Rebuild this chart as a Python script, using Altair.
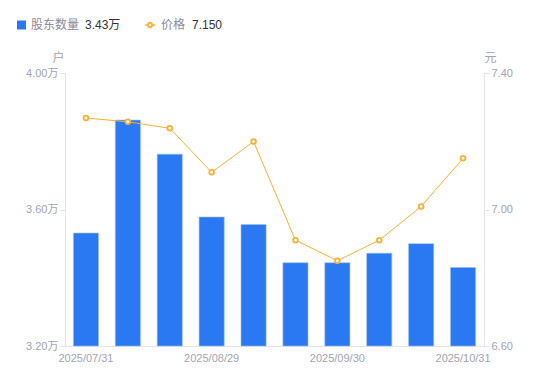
import altair as alt
import pandas as pd

dates = ["2025/07/31", "2025/08/10", "2025/08/20", "2025/08/29", "2025/09/10",
         "2025/09/19", "2025/09/30", "2025/10/10", "2025/10/20", "2025/10/31"]
holders = [3.531, 3.862, 3.762, 3.578, 3.556, 3.444, 3.444, 3.472, 3.500, 3.430]  # 万户
price = [7.268, 7.257, 7.238, 7.109, 7.199, 6.910, 6.850, 6.910, 7.009, 7.150]
shown_dates = [dates[0], dates[3], dates[6], dates[9]]
left_ticks = [3.2, 3.6, 4.0]
right_ticks = [6.6, 7.0, 7.4]

df = pd.DataFrame({"date": dates, "holders": holders, "price": price})

FONT = "Arial, Liberation Sans, Noto Sans CJK SC"
BLUE = "#2a78f2"
ORANGE = "#f9b033"
GRAY = "#a3a3b3"
AXIS = "#e3e3e8"

x_enc = alt.X("date:O", sort=dates, title=None,
              scale=alt.Scale(paddingInner=0.4, paddingOuter=0.2),
              axis=alt.Axis(values=shown_dates, labelAngle=0, ticks=False,
                            domainColor=AXIS, labelColor=GRAY, labelFontSize=11,
                            labelPadding=6, labelFont=FONT, labelOverlap=False))

bars = alt.Chart(df).mark_bar(color=BLUE, stroke="#9cc0f7", strokeWidth=0.6).encode(
    x=x_enc,
    y=alt.Y("holders:Q", scale=alt.Scale(domain=[3.2, 4.0], zero=False, nice=False),
            axis=alt.Axis(values=left_ticks, title="户", titleAngle=0, titleX=-7, titleY=-16,
                          titleAlign="center", titleBaseline="middle", titleColor=GRAY,
                          titleFont=FONT, titleFontSize=12, titleFontWeight="normal",
                          labelExpr="format(datum.value, '.2f') + '万'",
                          labelColor=GRAY, labelFontSize=11, labelFont=FONT,
                          tickColor=AXIS, tickSize=5, labelPadding=2,
                          domainColor=AXIS, grid=False)),
    y2=alt.datum(3.2),
)

line = alt.Chart(df).mark_line(color=ORANGE, strokeWidth=1).encode(
    x=alt.X("date:O", sort=dates),
    y=alt.Y("price:Q", scale=alt.Scale(domain=[6.6, 7.4], zero=False, nice=False),
            axis=alt.Axis(values=right_ticks, orient="right", title="元", titleAngle=0,
                          titleX=6, titleY=-16, titleAlign="center", titleBaseline="middle",
                          titleColor=GRAY, titleFont=FONT, titleFontSize=12,
                          titleFontWeight="normal", format=".2f",
                          labelColor=GRAY, labelFontSize=11, labelFont=FONT,
                          tickColor=AXIS, tickSize=5, labelPadding=2,
                          domainColor=AXIS, grid=False)),
)
pts = alt.Chart(df).mark_point(shape="circle", filled=False, fill="white", color=ORANGE,
                               strokeWidth=1.8, size=22, opacity=1).encode(
    x=alt.X("date:O", sort=dates),
    y=alt.Y("price:Q"),
)

# legend
leg_df = pd.DataFrame({"k": [0]})
base = alt.Chart(leg_df)
sq = base.mark_square(color=BLUE, size=81, opacity=1).encode(
    x=alt.value(-43.5), y=alt.value(-48))
t1 = base.mark_text(text="股东数量", align="left", baseline="middle", fontSize=12,
                    font=FONT, color="#8a8a99").encode(x=alt.value(-34), y=alt.value(-48))
t2 = base.mark_text(text=f"{holders[-1]:.2f}万", align="left", baseline="middle", fontSize=12,
                    font=FONT, color="#333333").encode(x=alt.value(20), y=alt.value(-48))
ol = base.mark_rule(color=ORANGE, strokeWidth=1.5).encode(
    x=alt.value(80), x2=alt.value(90), y=alt.value(-48))
oc = base.mark_point(shape="circle", filled=False, fill="white", color=ORANGE,
                     strokeWidth=1.8, size=20, opacity=1).encode(x=alt.value(85), y=alt.value(-48))
t3 = base.mark_text(text="价格", align="left", baseline="middle", fontSize=12,
                    font=FONT, color="#8a8a99").encode(x=alt.value(96), y=alt.value(-48))
t4 = base.mark_text(text=f"{price[-1]:.3f}", align="left", baseline="middle", fontSize=12,
                    font=FONT, color="#333333").encode(x=alt.value(127), y=alt.value(-48))

chart = alt.layer(bars, alt.layer(line, pts), sq, t1, t2, ol, oc, t3, t4).resolve_scale(
    y="independent"
).properties(
    width=419, height=273,
    autosize=alt.AutoSizeParams(type="none"),
    padding={"left": 57, "top": 65, "right": 50, "bottom": 30},
).configure_view(stroke=None)

chart.save("out.html", embed_options={"renderer": "svg", "actions": False})
